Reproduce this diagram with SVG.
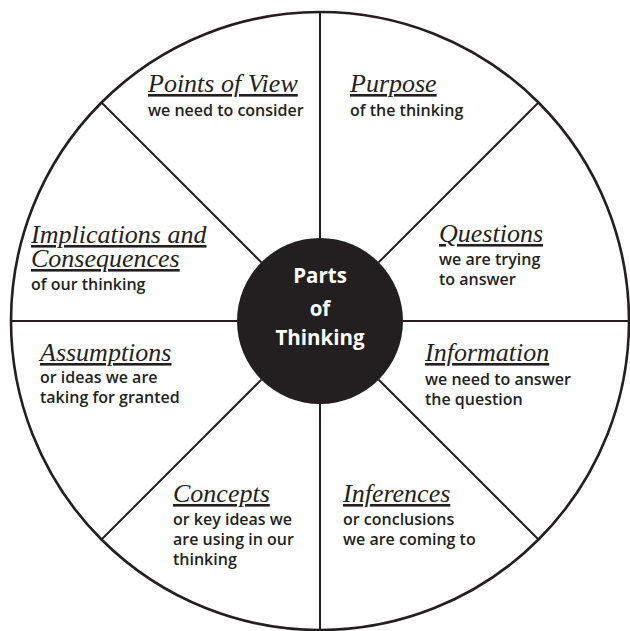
<svg xmlns="http://www.w3.org/2000/svg" width="630" height="631" viewBox="0 0 630 631">
  <style>
    .rim { fill: #fff; stroke: #231f20; stroke-width: 2.6; }
    .spoke { stroke: #231f20; stroke-width: 2; fill: none; }
    .hub { fill: #231f20; }
    .hubtxt { font-family: "Open Sans", "Liberation Sans", sans-serif; font-weight: 700; font-size: 20.5px; fill: #fff; text-anchor: middle; }
    .title { font-family: "Liberation Serif", "Times New Roman", serif; font-style: italic; font-size: 26px; fill: #231f20; text-decoration: underline; }
    .sub { font-family: "Open Sans", "Liberation Sans", sans-serif; font-weight: 600; font-size: 16px; fill: #231f20; }
  </style>

  <!-- outer wheel -->
  <circle id="wheel" class="rim" cx="320" cy="321" r="309"/>

  <!-- eight spokes from hub edge to rim -->
  <g id="connectors">
    <line class="spoke" x1="320" y1="12" x2="320" y2="238"/>
    <line class="spoke" x1="320" y1="404" x2="320" y2="630"/>
    <line class="spoke" x1="11" y1="321" x2="237" y2="321"/>
    <line class="spoke" x1="403" y1="321" x2="629" y2="321"/>
    <line class="spoke" x1="101.5" y1="102.5" x2="261.3" y2="262.3"/>
    <line class="spoke" x1="538.5" y1="102.5" x2="378.7" y2="262.3"/>
    <line class="spoke" x1="101.5" y1="539.5" x2="261.3" y2="379.7"/>
    <line class="spoke" x1="538.5" y1="539.5" x2="378.7" y2="379.7"/>
  </g>

  <g id="hub">
    <circle class="hub" cx="320" cy="321" r="83"/>
    <text class="hubtxt" x="320" y="283">Parts</text>
    <text class="hubtxt" x="320" y="316">of</text>
    <text class="hubtxt" x="320" y="345">Thinking</text>
  </g>

  <g id="points-of-view">
    <text class="title" x="148" y="92">Points of View</text>
    <text class="sub" x="148" y="116">we need to consider</text>
  </g>

  <g id="purpose">
    <text class="title" x="350" y="92">Purpose</text>
    <text class="sub" x="350" y="116">of the thinking</text>
  </g>

  <g id="questions">
    <text class="title" x="439" y="242">Questions</text>
    <text class="sub" x="439" y="265">we are trying</text>
    <text class="sub" x="439" y="285">to answer</text>
  </g>

  <g id="information">
    <text class="title" x="425" y="361">Information</text>
    <text class="sub" x="425" y="385">we need to answer</text>
    <text class="sub" x="425" y="405">the question</text>
  </g>

  <g id="inferences">
    <text class="title" x="343" y="502">Inferences</text>
    <text class="sub" x="343" y="525">or conclusions</text>
    <text class="sub" x="343" y="545">we are coming to</text>
  </g>

  <g id="concepts">
    <text class="title" x="173" y="502">Concepts</text>
    <text class="sub" x="173" y="525">or key ideas we</text>
    <text class="sub" x="173" y="545">are using in our</text>
    <text class="sub" x="173" y="565">thinking</text>
  </g>

  <g id="assumptions">
    <text class="title" x="40" y="361">Assumptions</text>
    <text class="sub" x="40" y="383">or ideas we are</text>
    <text class="sub" x="40" y="403">taking for granted</text>
  </g>

  <g id="implications">
    <text class="title" x="31" y="243">Implications and</text>
    <text class="title" x="31" y="267">Consequences</text>
    <text class="sub" x="31" y="290">of our thinking</text>
  </g>
</svg>
